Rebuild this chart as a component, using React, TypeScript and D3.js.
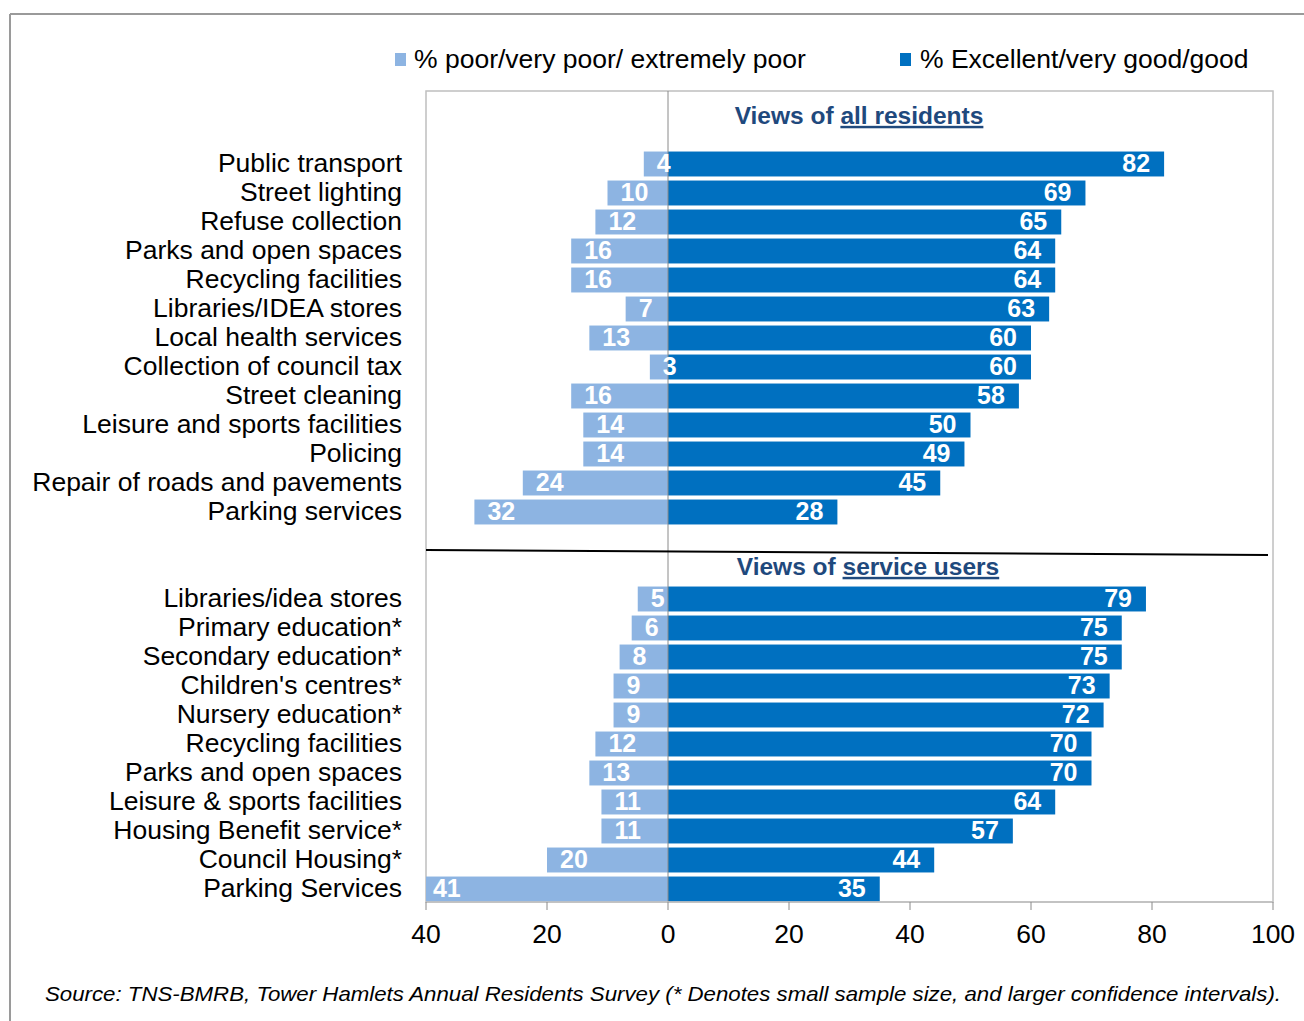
import React from "react";
import * as d3 from "d3";

const residentCategories = [
  "Public transport",
  "Street lighting",
  "Refuse collection",
  "Parks and open spaces",
  "Recycling facilities",
  "Libraries/IDEA stores",
  "Local health services",
  "Collection of council tax",
  "Street cleaning",
  "Leisure and sports facilities",
  "Policing",
  "Repair of roads and pavements",
  "Parking services",
];
const residentPoor = [4, 10, 12, 16, 16, 7, 13, 3, 16, 14, 14, 24, 32];
const residentGood = [82, 69, 65, 64, 64, 63, 60, 60, 58, 50, 49, 45, 28];

const userCategories = [
  "Libraries/idea stores",
  "Primary education*",
  "Secondary education*",
  "Children's centres*",
  "Nursery education*",
  "Recycling facilities",
  "Parks and open spaces",
  "Leisure & sports facilities",
  "Housing Benefit service*",
  "Council Housing*",
  "Parking Services",
];
const userPoor = [5, 6, 8, 9, 9, 12, 13, 11, 11, 20, 41];
const userGood = [79, 75, 75, 73, 72, 70, 70, 64, 57, 44, 35];

const tickValues = [-40, -20, 0, 20, 40, 60, 80, 100];
const legendLabels = ["% poor/very poor/ extremely poor", "% Excellent/very good/good"];
const sourceText =
  "Source: TNS-BMRB, Tower Hamlets Annual Residents Survey (* Denotes small sample size, and larger confidence intervals).";

const LIGHT = "#8DB4E2";
const DARK = "#0070C0";
const HEAD = "#1F497D";
const FONT = "'Liberation Sans', Arial, sans-serif";
const DY = "0.32em";

const W = 1304;
const H = 1021;
const plot = { left: 426, right: 1273, top: 91, bottom: 902 };

const x = d3.scaleLinear().domain([-40, 100]).range([plot.left, plot.right]);

function makeBand(cats: string[], start: number) {
  return d3
    .scaleBand<string>()
    .domain(cats)
    .range([start, start + 29 * cats.length])
    .paddingInner(0.14)
    .paddingOuter(0.07);
}

function Group({ cats, poor, good, start }: { cats: string[]; poor: number[]; good: number[]; start: number }) {
  const y = makeBand(cats, start);
  const bh = y.bandwidth();
  return (
    <g>
      {cats.map((c, i) => {
        const yy = y(c)!;
        const cy = yy + bh / 2;
        const xl = Math.max(x(-poor[i]), plot.left);
        return (
          <g key={c}>
            <text x={402} y={cy} dy={DY} textAnchor="end" fontSize={26.5} fill="#000">
              {c}
            </text>
            <rect x={xl} y={yy} width={x(0) - xl} height={bh} fill={LIGHT} />
            <rect x={x(0)} y={yy} width={x(good[i]) - x(0)} height={bh} fill={DARK} />
          </g>
        );
      })}
    </g>
  );
}

function Labels({ cats, poor, good, start }: { cats: string[]; poor: number[]; good: number[]; start: number }) {
  const y = makeBand(cats, start);
  const bh = y.bandwidth();
  return (
    <g fontWeight="bold" fontSize={25} fill="#fff">
      {cats.map((c, i) => {
        const cy = y(c)! + bh / 2;
        return (
          <g key={c}>
            <text x={x(-poor[i]) + 13} y={cy} dy={DY} textAnchor="start">
              {poor[i]}
            </text>
            <text x={x(good[i]) - 14} y={cy} dy={DY} textAnchor="end">
              {good[i]}
            </text>
          </g>
        );
      })}
    </g>
  );
}

export default function App() {
  return (
    <svg
      width={W}
      height={H}
      style={{ position: "absolute", left: 0, top: 0, background: "#fff" }}
      fontFamily={FONT}
    >
      {/* outer frame */}
      <line x1={10} y1={14} x2={W} y2={14} stroke="#9a9a9a" strokeWidth={2} />
      <line x1={10} y1={14} x2={10} y2={H} stroke="#9a9a9a" strokeWidth={2} />

      {/* legend */}
      <rect x={395} y={53} width={11} height={13} fill={LIGHT} />
      <text x={414} y={60} dy={DY} fontSize={26.5}>
        {legendLabels[0]}
      </text>
      <rect x={900} y={53} width={11} height={13} fill={DARK} />
      <text x={920} y={60} dy={DY} fontSize={26.5}>
        {legendLabels[1]}
      </text>

      {/* plot area */}
      <rect
        x={plot.left}
        y={plot.top}
        width={plot.right - plot.left}
        height={plot.bottom - plot.top}
        fill="none"
        stroke="#bfbfbf"
        strokeWidth={1.5}
      />

      <Group cats={residentCategories} poor={residentPoor} good={residentGood} start={149.5} />
      <Group cats={userCategories} poor={userPoor} good={userGood} start={584.5} />

      {/* zero line */}
      <line x1={x(0)} y1={plot.top} x2={x(0)} y2={plot.bottom} stroke="#8a8a8a" strokeWidth={1} />

      <Labels cats={residentCategories} poor={residentPoor} good={residentGood} start={149.5} />
      <Labels cats={userCategories} poor={userPoor} good={userGood} start={584.5} />

      {/* divider */}
      <line x1={plot.left} y1={550} x2={1268} y2={555} stroke="#000" strokeWidth={2} />

      {/* headings */}
      <text x={859} y={116} dy={DY} textAnchor="middle" fontSize={24.5} fontWeight="bold" fill={HEAD}>
        Views of <tspan textDecoration="underline">all residents</tspan>
      </text>
      <text x={868} y={567} dy={DY} textAnchor="middle" fontSize={24.5} fontWeight="bold" fill={HEAD}>
        Views of <tspan textDecoration="underline">service users</tspan>
      </text>

      {/* x axis */}
      <line x1={plot.left} y1={plot.bottom} x2={plot.right} y2={plot.bottom} stroke="#bfbfbf" strokeWidth={1.5} />
      {tickValues.map((t) => (
        <g key={t}>
          <line x1={x(t)} y1={plot.bottom} x2={x(t)} y2={plot.bottom + 8} stroke="#8a8a8a" />
          <text x={x(t)} y={935} dy={DY} textAnchor="middle" fontSize={26.5}>
            {Math.abs(t)}
          </text>
        </g>
      ))}

      {/* source */}
      <text x={45} y={994} dy={DY} fontSize={21} fontStyle="italic" textLength={1236} lengthAdjust="spacingAndGlyphs">
        {sourceText}
      </text>
    </svg>
  );
}
